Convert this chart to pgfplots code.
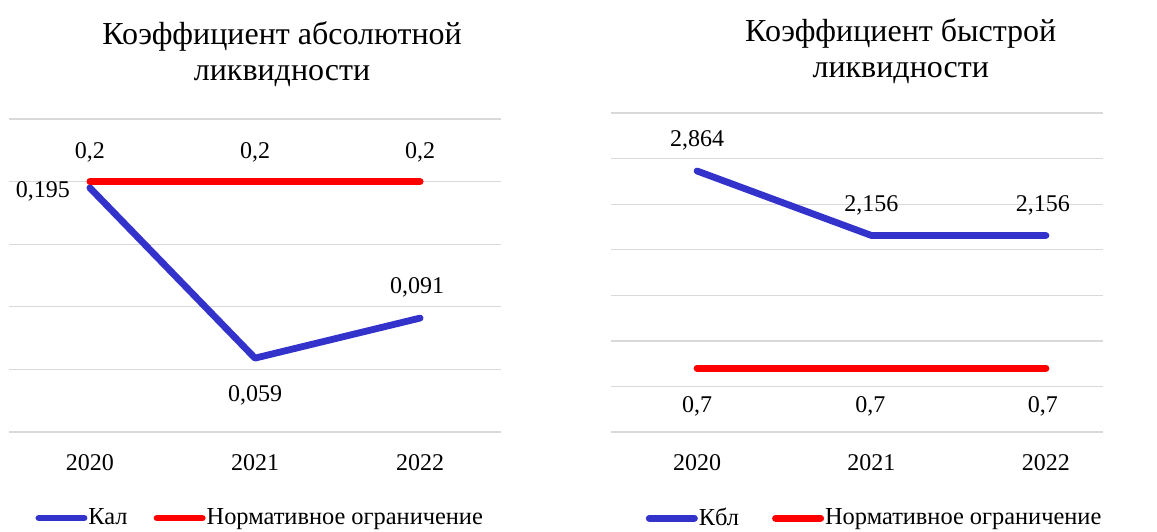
\documentclass[border=0pt]{standalone}
\usepackage{fontspec}
\setmainfont{Liberation Serif}
\usepackage{pgfplots}
\usepackage{pgfplotstable}
\pgfplotsset{compat=1.18}
\definecolor{kblue}{HTML}{3333CC}
\definecolor{kred}{HTML}{FF0000}
\definecolor{kgrid}{HTML}{D9D9D9}

\pgfplotstableread{
x y lab dx dy
0 0.195 0,195 -23.5 -5
1 0.059 0,059 0 -21.5
2 0.091 0,091 -1.5 12.5
}\kal
\pgfplotstableread{
x y lab dx dy
0 0.2 0,2 0 11.8
1 0.2 0,2 0 11.8
2 0.2 0,2 0 11.8
}\normA
\pgfplotstableread{
x y lab dx dy
0 2.864 2,864 0 12.2
1 2.156 2,156 0 11.8
2 2.156 2,156 -1.5 11.8
}\kbl
\pgfplotstableread{
x y lab dx dy
0 0.7 0,7 0 -22.3
1 0.7 0,7 -0.5 -22.3
2 0.7 0,7 -1.5 -22.3
}\normB

\pgfplotsset{
  kstyle/.style={
    scale only axis, clip=false,
    axis line style={draw=none},
    major tick length=0pt,
    ymajorgrids, grid style={kgrid, line width=0.65pt},
    yticklabels={},
    xtick={0,1,2}, xticklabels={2020,2021,2022},
    xticklabel style={font=\fontsize{12}{14}\selectfont, anchor=center, yshift=-15.5pt},
    legend columns=2,
    legend image code/.code={\draw[##1, line cap=round] (0pt,0pt) -- (22.6pt,0pt);},
    legend style={draw=none, fill=none, inner sep=0pt,
      font=\fontsize{12.2}{14}\selectfont,
      nodes={inner xsep=0.5pt, inner ysep=0pt}},
  },
  kline/.style={
    line width=3.4pt, line cap=round, line join=round, mark=none, forget plot,
    nodes near coords, point meta=explicit symbolic,
    visualization depends on={\thisrow{dx} \as \ldx},
    visualization depends on={\thisrow{dy} \as \ldy},
    every node near coord/.append style={anchor=base, xshift=\ldx, yshift=\ldy,
      font=\fontsize{12}{14}\selectfont, text=black, inner sep=0pt},
  },
}

\begin{document}
\begin{tikzpicture}
\path[use as bounding box] (0,0) rectangle (578.5pt,-265.5pt);

\begin{axis}[kstyle,
  at={(4.5pt,-216pt)}, anchor=south west,
  width=246pt, height=156.5pt,
  xmin=-0.49, xmax=2.49, ymin=0, ymax=0.25,
  ytick={0,0.05,0.1,0.15,0.2,0.25},
  title={Коэффициент абсолютной\\ликвидности},
  title style={at={(0.555,1.168)}, anchor=center, align=center, font=\fontsize{16}{18}\selectfont},
  legend style={at={(0.053,-0.275)}, anchor=west,
    /tikz/every even column/.append style={column sep=12.5pt}},
]
\addplot[kline, color=kblue] table[x=x, y=y, meta=lab] {\kal};
\addplot[kline, color=kred] table[x=x, y=y, meta=lab] {\normA};
\addlegendimage{kblue, line width=3.4pt}
\addlegendentry{Кал}
\addlegendimage{kred, line width=3.4pt}
\addlegendentry{Нормативное ограничение}
\end{axis}

\begin{axis}[kstyle,
  at={(305.5pt,-216pt)}, anchor=south west,
  width=246pt, height=159.5pt,
  xmin=-0.493, xmax=2.327, ymin=0, ymax=3.5,
  ytick={0,0.5,1,1.5,2,2.5,3,3.5},
  title={Коэффициент быстрой\\ликвидности},
  title style={at={(0.589,1.157)}, anchor=center, align=center, font=\fontsize{16}{18}\selectfont},
  legend style={at={(0.07,-0.27)}, anchor=west,
    /tikz/every even column/.append style={column sep=16pt}},
]
\addplot[kline, color=kblue] table[x=x, y=y, meta=lab] {\kbl};
\addplot[kline, color=kred] table[x=x, y=y, meta=lab] {\normB};
\addlegendimage{kblue, line width=3.4pt}
\addlegendentry{Кбл}
\addlegendimage{kred, line width=3.4pt}
\addlegendentry{Нормативное ограничение}
\end{axis}
\end{tikzpicture}
\end{document}
